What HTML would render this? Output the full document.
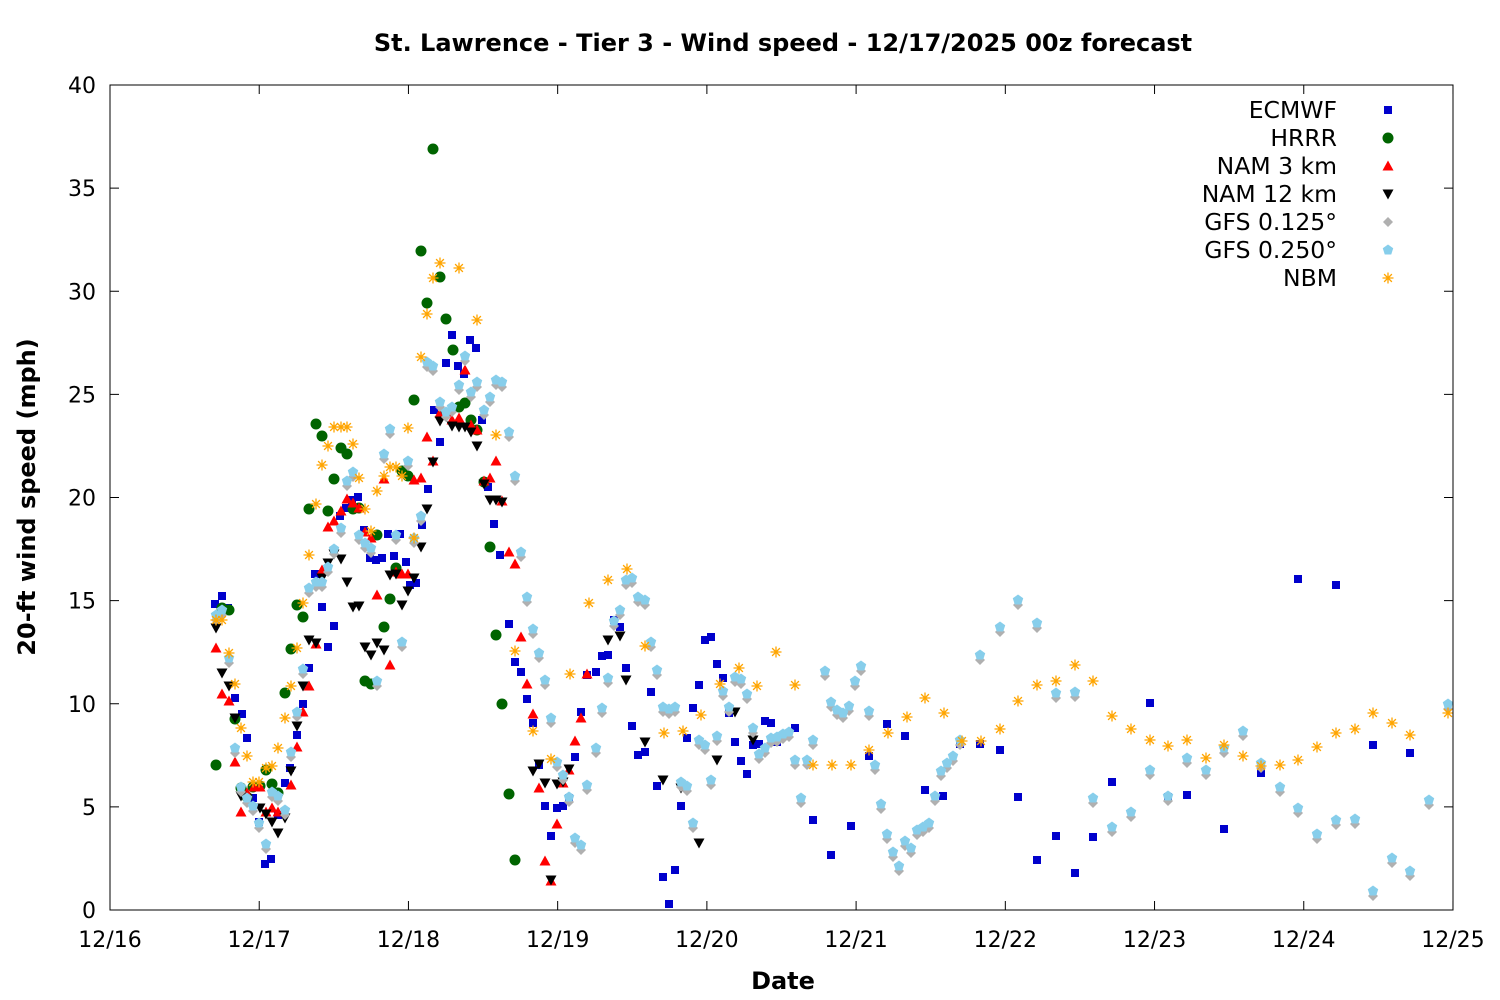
<!DOCTYPE html>
<html><head><meta charset="utf-8"><style>
html,body{margin:0;padding:0;background:#fff;}
svg{display:block;font-family:"DejaVu Sans","Liberation Sans",sans-serif;}
</style></head><body>
<svg id="s" width="1500" height="1000" xmlns="http://www.w3.org/2000/svg">
<rect width="1500" height="1000" fill="#fff"/>
<text x="783" y="51" text-anchor="middle" font-size="24" font-weight="bold">St. Lawrence - Tier 3 - Wind speed - 12/17/2025 00z forecast</text>
<text x="783" y="989" text-anchor="middle" font-size="24" font-weight="bold">Date</text>
<text transform="translate(35,497) rotate(-90)" text-anchor="middle" font-size="24" font-weight="bold">20-ft wind speed (mph)</text>
<g id="ax"></g>
<g id="pts"></g>
<g id="leg"></g>
<rect x="110" y="85" width="1343" height="825" fill="none" stroke="#000" stroke-width="1"/>
</svg>
<script>
var NS="http://www.w3.org/2000/svg";
function el(p,t,a,txt){var e=document.createElementNS(NS,t);for(var k in a)e.setAttribute(k,a[k]);if(txt!=null)e.textContent=txt;p.appendChild(e);return e;}
var ax=document.getElementById('ax'),P=document.getElementById('pts'),L=document.getElementById('leg');
for(var i=0;i<=8;i++){var y=910-i*103.125;
 el(ax,'line',{x1:110,x2:119,y1:y,y2:y,stroke:'#000'});el(ax,'line',{x1:1444,x2:1453,y1:y,y2:y,stroke:'#000'});
 el(ax,'text',{x:96,y:y+8,'text-anchor':'end','font-size':'22'},String(i*5));}
for(var i=0;i<=9;i++){var x=110+i*149.22;
 el(ax,'line',{x1:x,x2:x,y1:910,y2:901,stroke:'#000'});el(ax,'line',{x1:x,x2:x,y1:85,y2:94,stroke:'#000'});
 el(ax,'text',{x:x,y:947,'text-anchor':'middle','font-size':'22'},'12/'+(16+i));}
function sq(g,x,y,c){el(g,'rect',{x:x-4,y:y-4,width:8,height:8,fill:c});}
function ci(g,x,y,c){el(g,'circle',{cx:x,cy:y,r:5.5,fill:c});}
function tu(g,x,y,c){el(g,'polygon',{points:(x-5.5)+','+(y+4.5)+' '+(x+5.5)+','+(y+4.5)+' '+x+','+(y-5.5),fill:c});}
function td(g,x,y,c){el(g,'polygon',{points:(x-5.5)+','+(y-4.5)+' '+(x+5.5)+','+(y-4.5)+' '+x+','+(y+5.5),fill:c});}
function di(g,x,y,c){el(g,'polygon',{points:x+','+(y-5)+' '+(x+5)+','+y+' '+x+','+(y+5)+' '+(x-5)+','+y,fill:c});}
function pe(g,x,y,c){var s='';for(var k=0;k<5;k++){var a=-Math.PI/2+k*2*Math.PI/5;s+=(x+5.5*Math.cos(a))+','+(y+5.5*Math.sin(a))+' ';}el(g,'polygon',{points:s,fill:c});}
function st(g,x,y,c){var d='';for(var k=0;k<4;k++){var a=k*Math.PI/4;var dx=5.5*Math.cos(a),dy=5.5*Math.sin(a);d+='M'+(x-dx)+' '+(y-dy)+'L'+(x+dx)+' '+(y+dy);}el(g,'path',{d:d,stroke:c,'stroke-width':1.3,fill:'none'});}
function pairs(s){var a=s.trim().split(/\s+/),r=[];for(var i=0;i<a.length;i++){var p=a[i].split(',');r.push([+p[0],+p[1]]);}return r;}

var EC=pairs("215,604 222,596 228,608 235,698 242,714 247,738 253,798 259,822 265,864 271,859 278,815 285,783 290,768 297,735 303,704 309,668 315,574 322,607 328,647 334,626 340,516 346,508 352,500 358,497 364,530 370,558 376,560 382,558 388,534 394,556 400,534 406,562 410,585 416,583 422,525 428,489 434,410 440,442 446,363 452,335 458,366 464,374 470,340 476,348 482,420 488,487 494,524 500,555 509,624 515,662 521,672 527,699 533,723 539,765 545,806 551,836 557,808 563,806 569,798 575,757 581,712 587,675 596,672 602,656 608,655 614,620 620,627 626,668 632,726 638,755 645,752 651,692 657,786 663,877 669,904 675,870 681,806 687,738 693,708 699,685 705,640 711,637 717,664 723,678 729,713 735,742 741,761 747,774 753,745 759,744 765,721 771,723 777,742 795,728 813,820 831,855 851,826 869,756 887,724 905,736 925,790 943,796 960,744 980,744 1000,750 1018,797 1037,860 1056,836 1075,873 1093,837 1112,782 1150,703 1168,797 1187,795 1224,829 1261,773 1298,579 1336,585 1373,745 1410,753");
var HR=pairs("216,765 222,608 229,610 235,719 241,788 247,797 253,787 260,786 266,770 272,784 278,793 285,693 291,649 297,605 303,617 309,509 316,424 322,436 328,511 334,479 341,448 347,454 353,509 359,508 365,681 371,684 377,535 384,627 390,599 396,568 402,471 408,476 414,400 421,251 427,303 433,149 440,277 446,319 453,350 459,407 465,403 471,420 477,430 484,482 490,547 496,635 502,704 509,794 515,860");
var N3=pairs("216,648 222,694 229,701 235,762 241,812 247,793 254,787 260,787 266,812 272,808 278,812 291,785 297,747 303,712 309,686 316,644 322,570 328,527 334,521 341,511 347,499 353,503 359,508 365,532 371,538 377,595 384,479 390,665 396,572 402,574 408,574 414,480 421,478 427,437 433,461 440,413 446,412 452,420 459,418 465,370 471,425 477,430 484,481 490,478 496,461 502,501 509,552 515,564 521,637 527,684 533,714 539,788 545,861 551,881 557,824 563,783 569,770 575,741 581,718 587,674");
var N12=pairs("216,628 222,673 229,686 235,718 241,796 247,799 254,808 260,808 266,814 272,822 278,833 285,818 291,771 297,726 303,686 309,640 316,643 322,578 328,563 334,554 341,559 347,582 353,607 359,606 365,647 371,655 377,643 384,650 390,575 396,574 402,605 408,591 414,578 421,547 427,509 433,462 440,421 446,416 452,426 459,427 465,427 471,432 477,446 484,484 490,500 496,500 502,502 533,771 539,764 545,783 551,880 557,784 563,782 569,769 608,640 620,636 626,680 645,742 663,780 681,788 699,843 717,760 735,712 753,740");
var G25=pairs("216,615 222,610 229,658 235,748 241,787 247,798 253,806 259,823 266,844 272,792 278,796 285,810 291,752 297,712 303,669 309,588 316,582 322,582 328,567 334,549 341,528 347,481 353,472 359,535 365,543 371,548 377,681 384,454 390,429 396,535 402,642 408,461 414,538 421,516 427,362 433,366 440,402 446,412 452,407 459,385 465,356 471,392 477,382 484,410 490,397 496,380 502,382 509,432 515,476 521,552 527,597 533,629 539,653 545,680 551,718 557,762 563,775 569,797 575,838 581,845 587,785 596,748 602,708 608,678 614,621 620,610 626,580 632,578 638,597 645,600 651,642 657,670 663,707 669,709 675,707 681,782 687,786 693,823 699,740 705,745 711,780 717,736 723,691 729,707 735,677 741,679 747,694 753,728 759,754 765,748 771,738 777,737 783,734 789,732 795,760 801,798 807,760 813,740 825,671 831,702 837,710 843,713 849,706 855,681 861,666 869,711 875,765 881,804 887,834 893,852 899,866 905,841 911,848 917,830 923,827 929,823 935,796 941,771 947,763 953,756 960,740 980,655 1000,627 1018,600 1037,623 1056,693 1075,692 1093,798 1112,827 1131,812 1150,770 1168,796 1187,758 1206,770 1224,748 1243,731 1261,763 1280,787 1298,808 1317,834 1336,820 1355,819 1373,891 1392,858 1410,871 1429,800 1448,704");
var NB=pairs("216,620 222,620 229,653 235,684 241,728 247,756 253,782 259,782 266,768 272,766 278,748 285,718 291,686 297,648 303,603 309,555 316,504 322,465 328,446 334,427 341,427 347,427 353,444 359,478 365,509 371,531 377,491 384,476 390,467 396,467 402,476 408,428 414,538 421,357 427,314 433,278 440,263 459,268 477,320 496,435 515,651 533,731 551,759 570,674 589,603 608,580 627,569 645,646 664,733 683,731 701,715 720,684 739,668 757,686 776,652 795,685 813,765 832,765 851,765 869,750 888,733 907,717 925,698 944,713 962,741 981,741 1000,729 1018,701 1037,685 1056,681 1075,665 1093,681 1112,716 1131,729 1150,740 1168,746 1187,740 1206,758 1224,745 1243,756 1261,766 1280,765 1298,760 1317,747 1336,733 1355,729 1373,713 1392,723 1410,735 1448,713");
function draw(arr,f,c,dy){arr.forEach(function(p){f(P,p[0],p[1]+(dy||0),c);});}
draw(EC,sq,'#0000cc');
draw(HR,ci,'#006400');
draw(N3,tu,'#ff0000');
draw(N12,td,'#000000');
draw(G25,di,'#b0b0b0',5);
draw(G25,pe,'#87ceeb');
draw(NB,st,'#ffa500');
var names=['ECMWF','HRRR','NAM 3 km','NAM 12 km','GFS 0.125°','GFS 0.250°','NBM'];
var fs=[sq,ci,tu,td,di,pe,st],cs=['#0000cc','#006400','#ff0000','#000000','#b0b0b0','#87ceeb','#ffa500'];
for(var i=0;i<7;i++){var y=110+i*28;el(L,'text',{x:1337,y:y+8,'text-anchor':'end','font-size':'23.5'},names[i]);fs[i](L,1388,y,cs[i]);}
</script>
</body></html>
